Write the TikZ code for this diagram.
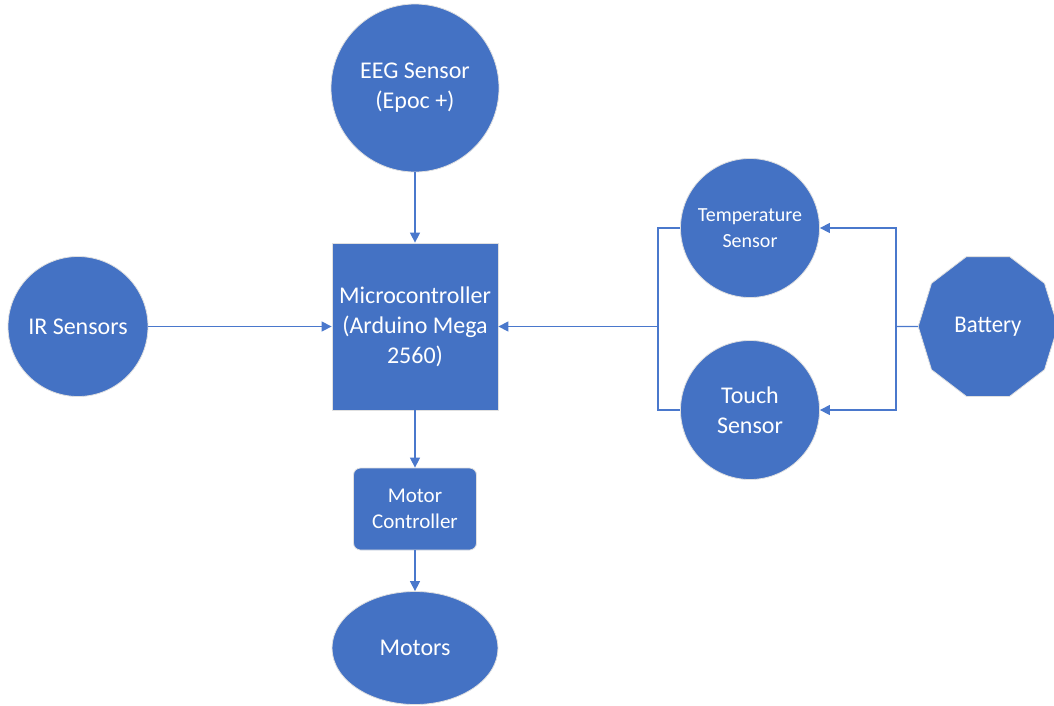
\documentclass[tikz,border=0pt]{standalone}
\usepackage{fontspec}
\setmainfont{Carlito}
\usetikzlibrary{arrows.meta,shapes.geometric}
\definecolor{blu}{HTML}{4472C4}
\definecolor{lin}{HTML}{4A78CC}
\tikzset{
  blob/.style={fill=blu, draw=black!12, line width=0.8pt, text=white, inner sep=0pt, align=center},
  circ/.style={blob, circle, minimum size=#1},
  big/.style={font=\fontsize{24}{30}\selectfont},
  small/.style={font=\fontsize{20}{26}\selectfont},
  mid/.style={font=\fontsize{21}{26}\selectfont},
  conn/.style={draw=lin, line width=1.4pt},
  arr/.style={conn, -{Triangle[length=10pt,width=10pt]}}
}
\begin{document}
\begin{tikzpicture}[x=1pt,y=-1pt]
\useasboundingbox (0,0) rectangle (1054,705);
\node[circ=168pt, big] (eeg) at (415,88) {EEG Sensor\\(Epoc +)};
\node[blob, rectangle, minimum width=166pt, minimum height=167pt, big] (mcu) at (415,326.5) {Microcontroller\\(Arduino Mega\\2560)};
\node[circ=140pt, big] (ir) at (78,326.5) {IR Sensors};
\node[circ=139pt, small] (temp) at (750,228) {Temperature\\Sensor};
\node[circ=139pt, big] (touch) at (750,410) {Touch\\Sensor};
\node[blob, regular polygon, regular polygon sides=10, minimum size=147pt, xscale=0.95, big] (bat) at (988,326.5) {Battery};
\node[blob, rectangle, rounded corners=7pt, minimum width=123pt, minimum height=82pt, mid] (mc) at (415,509) {Motor\\Controller};
\node[blob, ellipse, minimum width=166pt, minimum height=113pt, big] (mot) at (415,648) {Motors};
\coordinate (jl) at (658,326.5);
\coordinate (jr) at (896,326.5);
\draw[arr] (eeg.south) -- (mcu.north);
\draw[arr] (ir.east) -- (mcu.west);
\draw[arr] (mcu.south) -- (mc.north);
\draw[arr] (mc.south) -- (mot.north);
\draw[conn] (temp.west) -| (jl) |- (touch.west);
\draw[arr] (jl) -- (mcu.east);
\draw[conn] (bat.west) -- (jr);
\draw[arr] (jr) |- (temp.east);
\draw[arr] (jr) |- (touch.east);
\end{tikzpicture}
\end{document}
